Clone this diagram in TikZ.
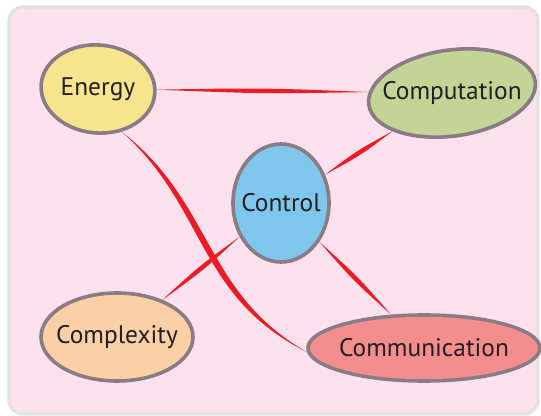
\documentclass[tikz,border=0pt]{standalone}
\usepackage{fontspec}
\setmainfont{PT Sans}
\usetikzlibrary{positioning,shapes.geometric,calc,backgrounds}
\definecolor{panelpink}{RGB}{253,225,236}
\definecolor{panelgrey}{RGB}{226,226,226}
\definecolor{rimgrey}{RGB}{138,124,132}
\definecolor{linkred}{RGB}{237,28,36}
\definecolor{energyfill}{RGB}{247,229,141}
\definecolor{compfill}{RGB}{196,211,150}
\definecolor{controlfill}{RGB}{127,198,236}
\definecolor{complexfill}{RGB}{251,208,166}
\definecolor{commfill}{RGB}{244,142,142}
\definecolor{inktext}{RGB}{35,31,32}

\tikzset{
  bubble/.style={ellipse, draw=rimgrey, line width=1.8pt, inner sep=0pt,
    text=inktext, font=\fontsize{12.7}{14}\selectfont},
}

% tapered red link between two nodes
\newcommand{\wedgelink}[2]{%
  \path (#1) -- (#2) coordinate[pos=0] (w1) coordinate[pos=1] (w2);
  \fill[linkred] (w1) .. controls ($(w1)!0.5!(w2)!1.5pt!90:(w2)$) .. (w2)
    .. controls ($(w1)!0.5!(w2)!1.5pt!-90:(w2)$) .. (w1) -- cycle;
}

\begin{document}
\begin{tikzpicture}[x=0.5pt, y=-0.5pt]
  \useasboundingbox (0,0) rectangle (541,416);

  % Bubbles
  \node[bubble, fill=energyfill, minimum width=57pt, minimum height=44pt, rotate=-5]
    (energy) at (98,89) {\rotatebox{5}{\makebox[0pt]{Energy}}};
  \node[bubble, fill=compfill, minimum width=84pt, minimum height=43pt, rotate=8]
    (comp) at (452,93) {\rotatebox{-8}{\makebox[0pt]{Computation}}};
  \node[bubble, fill=controlfill, minimum width=48pt, minimum height=59pt]
    (control) at (281,203) {\makebox[0pt]{Control}};
  \node[bubble, fill=complexfill, minimum width=76pt, minimum height=44pt]
    (complex) at (117,337) {\makebox[0pt]{Complexity}};
  \node[bubble, fill=commfill, minimum width=116pt, minimum height=33pt]
    (comm) at (424,348) {\makebox[0pt]{Communication}};

  \begin{scope}[on background layer]
    % Panel
    \draw[panelgrey, fill=panelpink, line width=1.7pt, rounded corners=7pt]
      (9,7) rectangle (538,414);

    % Links
    \wedgelink{energy}{comp}
    \wedgelink{comp}{control}
    \wedgelink{control}{complex}
    \wedgelink{control}{comm}

    % Curved link
    \coordinate (c1) at (210,205);
    \coordinate (c2) at (200,295);
    \fill[linkred] (energy.-56)
      .. controls ($(c1)+(1.7pt,1.1pt)$) and ($(c2)+(1.7pt,1.1pt)$) .. (comm.182)
      .. controls ($(c2)-(1.7pt,1.1pt)$) and ($(c1)-(1.7pt,1.1pt)$) .. (energy.-56) -- cycle;
  \end{scope}
\end{tikzpicture}
\end{document}
